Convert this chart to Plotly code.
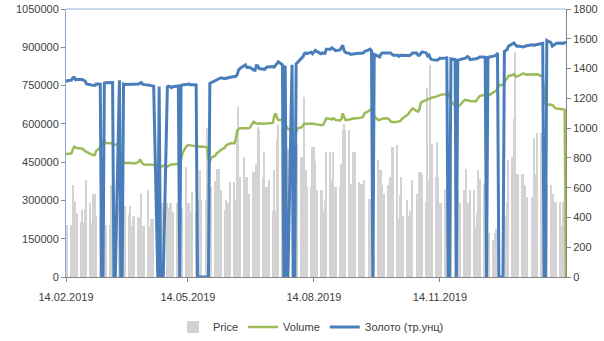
import plotly.graph_objects as go
import pandas as pd

# trading days, Thu 14.02.2019 .. Fri 14.02.2020 (one row per week below)
dates = pd.bdate_range("2019-02-14", "2020-02-14")

# grey bars, left axis
price = [
    204000, 205000,
    205000, 360000, 256000, 296000, 252000,
    215000, 264000, 215000, 264000, 380000,
    288000, 210000, 326000, 326000, 240000,
    235000, 235000, 282000, 282000, 204000,
    204000, 360000, 360000, 360000, 282000,
    282000, 240000, 200000, 277000, 277000,
    243000, 277000, 200000, 235000, 240000,
    235000, 230000, 330000, 200000, 200000,
    340000, 196000, 229000, 229000, 229000,
    250000, 250000, 288000, 288000, 260000,
    288000, 270000, 288000, 288000, 256000,
    288000, 260000, 260000, 270000, 270000,
    432000, 288000, 288000, 256000, 335000,
    256000, 280000, 300000, 418000, 300000,
    300000, 584000, 300000, 354000, 354000,
    376000, 424000, 340000, 424000, 340000,
    264000, 300000, 288000, 288000, 373000,
    373000, 300000, 537000, 667000, 392000,
    471000, 392000, 392000, 327000, 327000,
    412000, 412000, 443000, 588000, 576000,
    392000, 490000, 353000, 353000, 380000,
    257000, 420000, 257000, 537000, 600000,
    588000, 480000, 520000, 615000, 500000,
    500000, 480000, 510000, 615000, 516000,
    470000, 470000, 706000, 420000, 353000,
    353000, 510000, 510000, 453000, 340000,
    340000, 340000, 257000, 300000, 490000,
    490000, 380000, 490000, 353000, 353000,
    353000, 443000, 576000, 601000, 576000,
    576000, 366000, 366000, 490000, 490000,
    373000, 366000, 366000, 294000, 380000,
    307000, 307000, 300000, 380000, 450000,
    458000, 418000, 418000, 360000, 327000,
    360000, 327000, 390000, 510000, 510000,
    516000, 229000, 320000, 392000, 238000,
    300000, 240000, 257000, 257000, 380000,
    327000, 327000, 412000, 412000, 405000,
    294000, 739000, 380000, 830000, 523000,
    392000, 530000, 392000, 288000, 288000,
    346000, 288000, 340000, 300000, 424000,
    424000, 380000, 340000, 288000, 288000,
    340000, 424000, 288000, 288000, 340000,
    340000, 196000, 250000, 418000, 385000,
    366000, 300000, 250000, 171000, 171000,
    144000, 171000, 190000, 190000, 200000,
    220000, 239000, 239000, 294000, 458000,
    471000, 621000, 882000, 405000, 405000,
    405000, 405000, 360000, 288000, 313000,
    313000, 313000, 544000, 405000, 564000,
    564000, 564000, 450000, 420000, 360000,
    360000, 327000, 327000, 294000, 294000,
    294000, 200000, 294000, 246000, 246000,
]

# green line, right axis
volume = [
    826, 828,
    830, 858, 875, 868, 866,
    864, 862, 852, 845, 840,
    825, 819, 818, 820, 845,
    870, 878, 905, 918, 900,
    898, 896, 898, 892, 890,
    888, 800, 770, 768, 766,
    768, 766, 765, 764, 762,
    772, 790, 775, 760, 756,
    755, 752, 750, 752, 754,
    745, 742, 740, 742, 748,
    741, 748, 752, 755, 756,
    755, 756, 760, 790, 831,
    880, 886, 888, 884, 882,
    878, 875, 874, 875, 876,
    875, 872, 790, 776, 800,
    815, 830, 835, 845, 853,
    870, 885, 890, 895, 898,
    898, 930, 985, 990, 999,
    999, 1000, 998, 1002, 1000,
    1043, 1035, 1031, 1030, 1032,
    1030, 1031, 1032, 1033, 1031,
    1035, 1080, 1099, 1070, 1054,
    1054, 1040, 1030, 1010, 995,
    980, 970, 965, 975, 999,
    1005, 1020, 1031, 1028, 1030,
    1031, 1030, 1031, 1028, 1025,
    1022, 1020, 1025, 1045, 1066,
    1062, 1058, 1066, 1062, 1054,
    1052, 1060, 1099, 1075, 1054,
    1058, 1062, 1066, 1066, 1064,
    1066, 1068, 1070, 1080, 1100,
    1115, 1121, 1133, 1120, 1080,
    1054, 1056, 1058, 1062, 1066,
    1064, 1058, 1045, 1043, 1040,
    1043, 1044, 1048, 1060, 1066,
    1088, 1095, 1110, 1121, 1133,
    1115, 1112, 1125, 1170, 1177,
    1188, 1195, 1200, 1200, 1205,
    1211, 1215, 1222, 1222, 1225,
    1227, 1230, 1233, 1210, 1180,
    1150, 1144, 1144, 1150, 1160,
    1188, 1188, 1185, 1180, 1182,
    1180, 1178, 1190, 1205, 1215,
    1222, 1220, 1222, 1225, 1222,
    1240, 1244, 1250, 1265, 1289,
    1290, 1310, 1323, 1335, 1350,
    1357, 1362, 1350, 1345, 1350,
    1365, 1368, 1362, 1358, 1360,
    1361, 1360, 1362, 1360, 1361,
    1350, 1345, 1250, 1166, 1160,
    1158, 1155, 1148, 1135, 1132,
    1130, 1128, 1130, 1125, 0,
]

# blue line, right axis (0 = no quote that day)
gold = [
    1312, 1318,
    1322, 1338, 1340, 1325, 1327,
    1328, 1326, 1320, 1316, 1296,
    1288, 1286, 1287, 1286, 1296,
    1295, 0, 0, 1302, 1304,
    1304, 1305, 1306, 0, 0,
    1322, 0, 0, 1296, 1293,
    1293, 1292, 1293, 1291, 1294,
    1296, 1302, 1306, 1295, 1292,
    1290, 1288, 1284, 1280, 1282,
    0, 1280, 0, 0, 0,
    1278, 1282, 1278, 1272, 1278,
    1280, 1283, 0, 1287, 1290,
    1295, 1298, 1296, 1290, 1292,
    1290, 0, 0, 0, 0,
    0, 0, 0, 1300, 1305,
    1318, 1325, 1330, 1336, 1338,
    1332, 1336, 1335, 1340, 1342,
    1345, 1348, 1360, 1392, 1400,
    1415, 1425, 1408, 1410, 1409,
    1390, 1388, 1420, 1418, 1400,
    1398, 1395, 1405, 1412, 1410,
    1414, 1410, 1424, 1440, 1446,
    1426, 0, 1420, 0, 0,
    1425, 0, 0, 1430, 1440,
    1465, 1480, 1500, 1505, 1500,
    1510, 1500, 1515, 1522, 1515,
    1500, 1505, 1502, 1502, 1530,
    1530, 1540, 1535, 1525, 1520,
    1525, 1545, 1556, 1520, 1508,
    1500, 1495, 1497, 1500, 1500,
    1502, 1500, 1502, 1505, 1515,
    1525, 1530, 1520, 0, 1495,
    1485, 1478, 1498, 1505, 1505,
    1505, 1500, 1505, 1495, 1490,
    1490, 1482, 1490, 1490, 1490,
    1488, 1485, 1488, 1495, 1505,
    1505, 1490, 1490, 1505, 1512,
    1505, 1485, 1490, 1468, 1460,
    1455, 1456, 1462, 1470, 1468,
    1470, 1472, 0, 0, 1465,
    1460, 0, 1455, 1458, 1460,
    1465, 1472, 1480, 1475, 1460,
    1462, 1465, 1468, 1472, 1478,
    1478, 1475, 0, 1475, 1478,
    1480, 1485, 1490, 1505, 0,
    0, 1515, 1520, 1528, 1550,
    1565, 1572, 1560, 1550, 1552,
    1550, 1545, 1550, 1552, 1558,
    1560, 1558, 1556, 1560, 1562,
    1565, 1570, 0, 0, 1589,
    1575, 1550, 1555, 1565, 1570,
    1572, 1568, 1570, 1575, 1574,
]

tick_dates = ["2019-02-14", "2019-05-14", "2019-08-14", "2019-11-14"]
tick_text = ["14.02.2019", "14.05.2019", "14.08.2019", "14.11.2019"]

font = dict(family="Liberation Sans, Arial, sans-serif", size=11, color="#404040")

fig = go.Figure()
fig.add_trace(go.Bar(
    x=dates, y=price, name="Price",
    marker=dict(color="#d3d3d3", line=dict(width=0)),
    width=1.0 * 86400000,
))
fig.add_trace(go.Scatter(
    x=dates, y=volume, name="Volume", yaxis="y2", mode="lines",
    line=dict(color="#9bbb59", width=2.5),
))
fig.add_trace(go.Scatter(
    x=dates, y=gold, name="Золото (тр.унц)", yaxis="y2", mode="lines",
    line=dict(color="#4a7ebb", width=3),
))

fig.update_layout(
    width=604, height=341,
    margin=dict(l=66, r=38, t=9, b=64, autoexpand=False),
    paper_bgcolor="white", plot_bgcolor="white",
    font=font,
    showlegend=True,
    legend=dict(orientation="h", x=0.49, xanchor="center", y=-0.187, yanchor="middle",
                font=font, traceorder="normal"),
    xaxis=dict(
        type="date", range=["2019-02-14", "2020-02-14"],
        tickvals=tick_dates, ticktext=tick_text, automargin=False,
        showgrid=False, zeroline=False,
        showline=True, linecolor="#868686", linewidth=1,
        ticks="outside", ticklen=4, tickcolor="#868686", ticklabelstandoff=6,
    ),
    yaxis=dict(
        range=[0, 1050000], dtick=150000, tickformat="d", automargin=False,
        showgrid=False, zeroline=False,
        showline=True, linecolor="#8ea9cf", linewidth=1,
        ticks="outside", ticklen=4, tickcolor="#868686",
    ),
    yaxis2=dict(
        range=[0, 1800], dtick=200, overlaying="y", side="right", automargin=False,
        showgrid=False, zeroline=False,
        showline=True, linecolor="#868686", linewidth=1,
        ticks="outside", ticklen=4, tickcolor="#868686",
    ),
    shapes=[dict(type="line", xref="paper", yref="paper", x0=0, x1=1, y0=1, y1=1,
                 line=dict(color="#95b3d7", width=1))],
    bargap=0,
)

# page body has a default 8px margin; drop it so the figure sits at the corner
fig.write_html("out.html", config={"displayModeBar": False},
               post_script="document.body.style.margin = '0';")
